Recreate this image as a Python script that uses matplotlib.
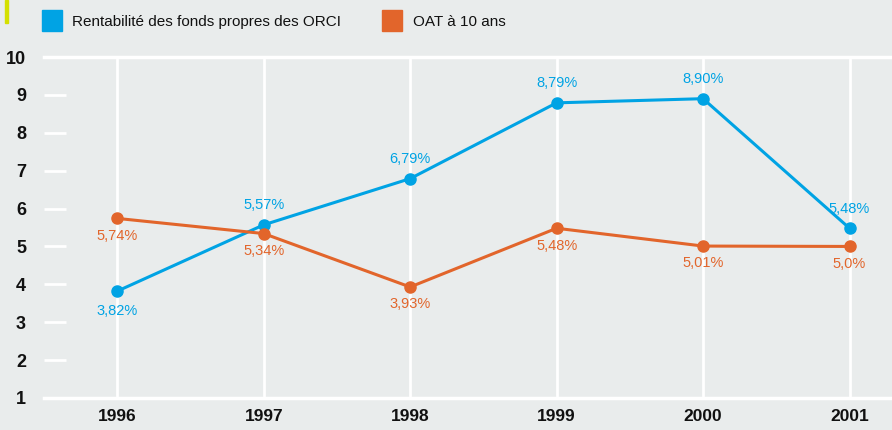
import matplotlib.pyplot as plt
from matplotlib.patches import Rectangle

# données
annees = [1996, 1997, 1998, 1999, 2000, 2001]
rentabilite = [3.82, 5.57, 6.79, 8.79, 8.90, 5.48]
oat = [5.74, 5.34, 3.93, 5.48, 5.01, 5.00]
etiq_rent = ['3,82%', '5,57%', '6,79%', '8,79%', '8,90%', '5,48%']
etiq_oat = ['5,74%', '5,34%', '3,93%', '5,48%', '5,01%', '5,0%']
yticks = list(range(1, 11))

bleu = '#00a3e4'
orange = '#e2652b'
fond = '#e9ecec'

plt.rcParams['font.family'] = ['Liberation Sans', 'DejaVu Sans']

fig = plt.figure(figsize=(8.92, 4.30), dpi=100)
fig.patch.set_facecolor(fond)
ax = fig.add_axes([44 / 892, 32 / 430, 848 / 892, 341 / 430])
ax.set_facecolor(fond)

ax.set_xlim(1995.5, 2001.29)
ax.set_ylim(1, 10)

# grille
for a in annees:
    ax.axvline(a, color='white', lw=2, zorder=1)
ax.axhline(10, color='white', lw=2.5, zorder=1, clip_on=False)
ax.axhline(1, color='white', lw=2.5, zorder=1, clip_on=False)

for s in ax.spines.values():
    s.set_visible(False)

ax.set_yticks(yticks)
ax.set_yticklabels([str(v) for v in yticks], fontweight='bold', fontsize=13, color='#111111')
ax.tick_params(axis='y', direction='in', length=16, width=2, color='white', pad=13)
ax.set_xticks(annees)
ax.set_xticklabels([str(a) for a in annees], fontweight='bold', fontsize=12.5, color='#111111')
ax.tick_params(axis='x', length=0, pad=8)

ax.plot(annees, rentabilite, color=bleu, lw=2.2, marker='o', ms=8, zorder=3)
ax.plot(annees, oat, color=orange, lw=2.2, marker='o', ms=8, zorder=3)

for i, a in enumerate(annees):
    dy = -14 if i == 0 else 14
    ax.annotate(etiq_rent[i], (a, rentabilite[i]), xytext=(0, dy), textcoords='offset points',
                ha='center', va='center', color=bleu, fontsize=10.5)
    ax.annotate(etiq_oat[i], (a, oat[i]), xytext=(0, -12.5), textcoords='offset points',
                ha='center', va='center', color=orange, fontsize=10.5)

# légende
fig.patches.append(Rectangle((42 / 892, 1 - 31 / 430), 20 / 892, 21 / 430,
                             transform=fig.transFigure, color=bleu))
fig.text(72 / 892, 1 - 22 / 430, 'Rentabilité des fonds propres des ORCI',
         va='center', fontsize=11, color='#111111')
fig.patches.append(Rectangle((382 / 892, 1 - 31 / 430), 20 / 892, 21 / 430,
                             transform=fig.transFigure, color=orange))
fig.text(413 / 892, 1 - 22 / 430, 'OAT à 10 ans', va='center', fontsize=11, color='#111111')
fig.patches.append(Rectangle((5 / 892, 1 - 23 / 430), 3 / 892, 23 / 430,
                             transform=fig.transFigure, color='#d4e000'))

fig.savefig('out.png', dpi=100, facecolor=fond)
